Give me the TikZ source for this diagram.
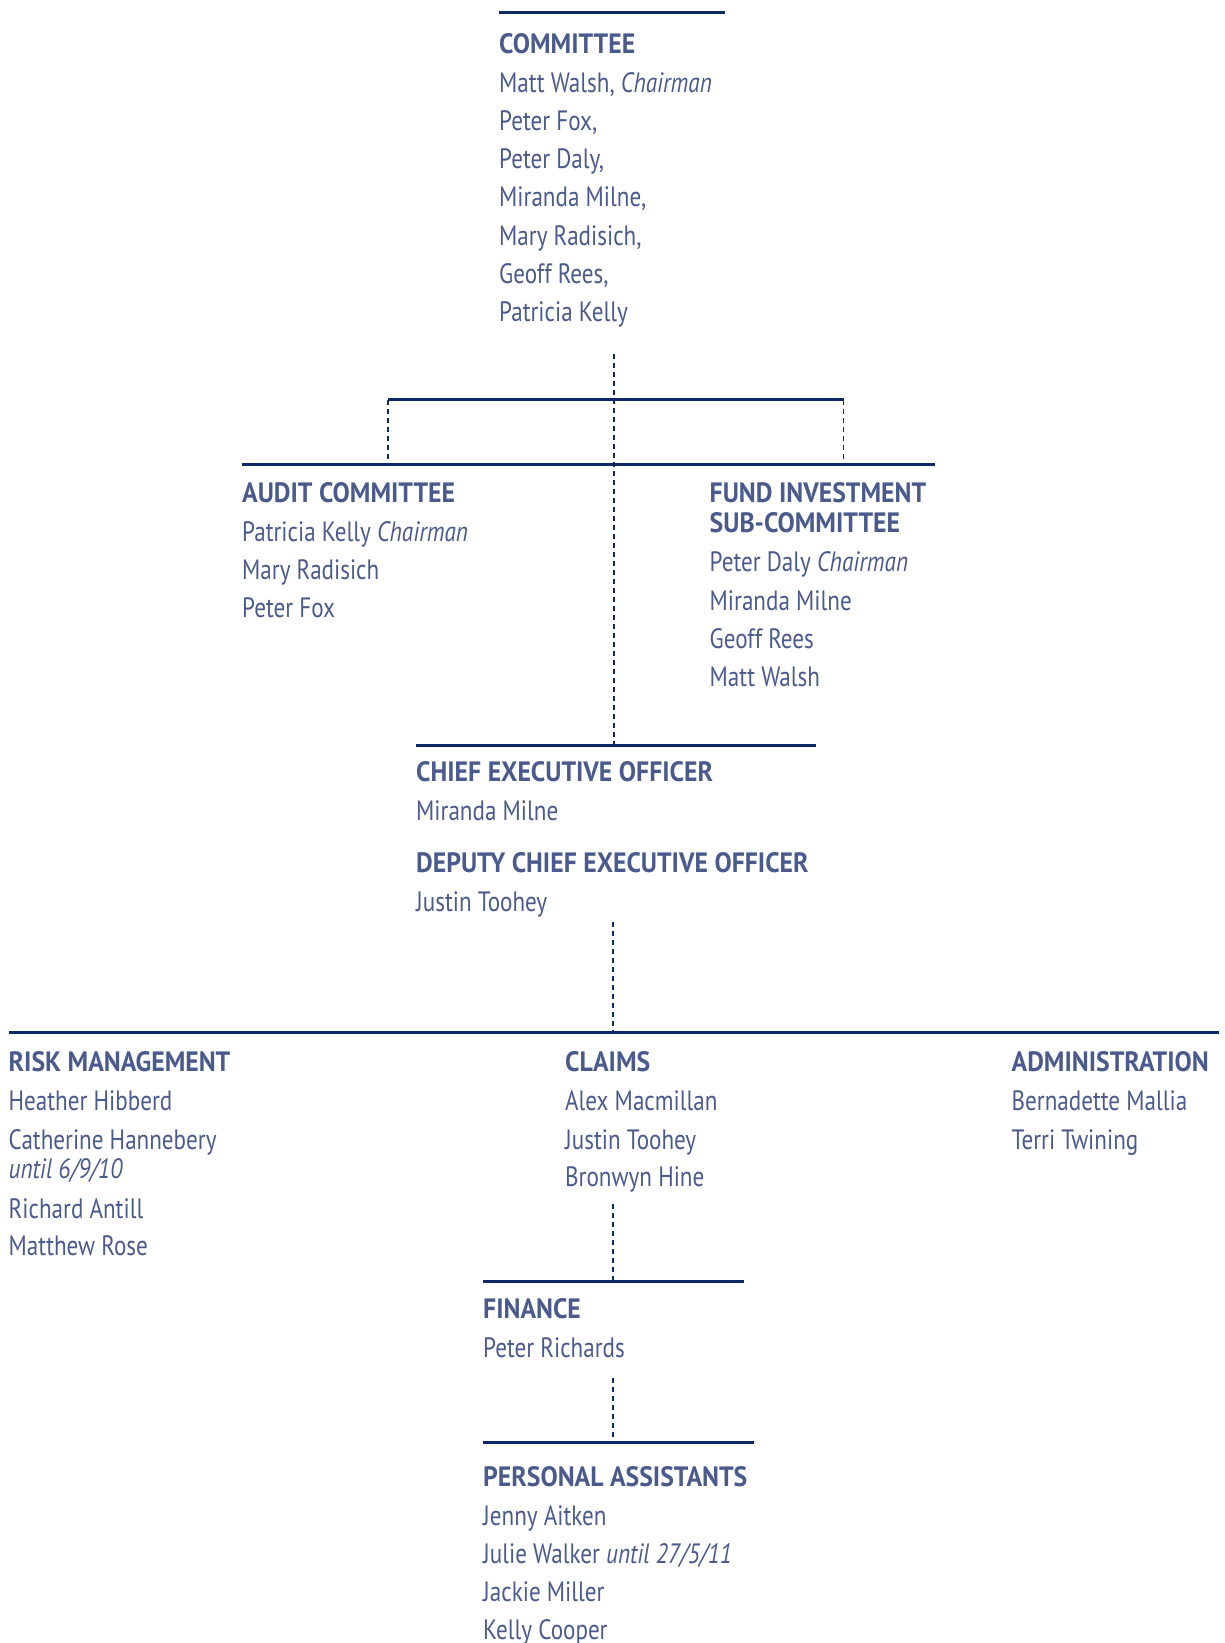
\documentclass[tikz,border=0pt]{standalone}
\usepackage{fontspec}
\setmainfont{PT Sans}[UprightFeatures={FakeStretch=0.825}, ItalicFeatures={FakeStretch=0.83}, BoldFeatures={FakeStretch=0.92}]
\definecolor{txtc}{HTML}{4A5A8C}
\definecolor{linec}{HTML}{0B2A63}
\newcommand{\fs}{\fontsize{28}{30}\selectfont}
\tikzset{
  txt/.style={anchor=base west, inner sep=0pt, text=txtc, font=\fs},
  head/.style={txt, font=\fs\bfseries},
  hline/.style={draw=linec, line width=3pt},
  dline/.style={draw=linec, line width=1.5pt, dash pattern=on 5pt off 4pt},
}
\begin{document}
\begin{tikzpicture}[x=1pt,y=-1pt]
\useasboundingbox (0,0) rectangle (1225,1643);
% ---------- COMMITTEE ----------
\coordinate (cL) at (499,12.6); \coordinate (cR) at (725,12.6);
\draw[hline] (cL) -- (cR);
\node[head] (com) at (499,54) {COMMITTEE};
\node[txt] (com1) at (499,92.2) {Matt Walsh, \textit{Chairman}};
\node[txt] (com2) at (499,130.4) {Peter Fox,};
\node[txt] (com3) at (499,168.6) {Peter Daly,};
\node[txt] (com4) at (499,206.8) {Miranda Milne,};
\node[txt] (com5) at (499,245) {Mary Radisich,};
\node[txt] (com6) at (499,283.2) {Geoff Rees,};
\node[txt] (com7) at (499,321.4) {Patricia Kelly};
% ---------- bracket ----------
\coordinate (ctop) at (614,354);
\coordinate (bL) at (388,399.5); \coordinate (bR) at (843.5,399.5);
\coordinate (lL) at (242,464.5); \coordinate (lR) at (935,464.5);
\coordinate (bLd) at (388,464.5); \coordinate (bRd) at (843.5,464.5);
\draw[hline] (bL) -- (bR);
\draw[hline] (lL) -- (lR);
\draw[dline] (bL) -- (bLd);
\draw[dline] (bR) -- (bRd);
% ---------- AUDIT ----------
\node[head] (aud) at (242,502.5) {AUDIT COMMITTEE};
\node[txt] (aud1) at (242,541) {Patricia Kelly \textit{Chairman}};
\node[txt] (aud2) at (242,579.2) {Mary Radisich};
\node[txt] (aud3) at (242,617.5) {Peter Fox};
% ---------- FUND ----------
\node[head] (fund) at (709.5,502.5) {FUND INVESTMENT};
\node[head] (fundb) at (709.5,532.9) {SUB-COMMITTEE};
\node[txt] (fund1) at (709.5,571.7) {Peter Daly \textit{Chairman}};
\node[txt] (fund2) at (709.5,610) {Miranda Milne};
\node[txt] (fund3) at (709.5,648.2) {Geoff Rees};
\node[txt] (fund4) at (709.5,686.4) {Matt Walsh};
% ---------- CEO ----------
\coordinate (ceoL) at (416,745.5); \coordinate (ceoR) at (815.5,745.5);
\coordinate (ceoC) at (614,745.5);
\draw[hline] (ceoL) -- (ceoR);
\draw[dline] (ctop) -- (ceoC);
\node[head] (ceo) at (416,781.3) {CHIEF EXECUTIVE OFFICER};
\node[txt] (ceo1) at (416,820) {Miranda Milne};
\node[head] (dep) at (416,872.4) {DEPUTY CHIEF EXECUTIVE OFFICER};
\node[txt] (dep1) at (416,911.2) {Justin Toohey};
% ---------- departments ----------
\coordinate (d1) at (613,922); \coordinate (d2) at (613,1032.5);
\coordinate (wL) at (8.5,1032.5); \coordinate (wR) at (1218.5,1032.5);
\draw[dline] (d1) -- (d2);
\draw[hline] (wL) -- (wR);
\node[head] (risk) at (8.5,1071.5) {RISK MANAGEMENT};
\node[txt] (risk1) at (8.5,1110.3) {Heather Hibberd};
\node[txt] (risk2) at (8.5,1149) {Catherine Hannebery};
\node[txt] (risk2b) at (8.5,1178.4) {\textit{until 6/9/10}};
\node[txt] (risk3) at (8.5,1218.2) {Richard Antill};
\node[txt] (risk4) at (8.5,1255.9) {Matthew Rose};
\node[head] (clm) at (565,1071.5) {CLAIMS};
\node[txt] (clm1) at (565,1110.3) {Alex Macmillan};
\node[txt] (clm2) at (565,1149) {Justin Toohey};
\node[txt] (clm3) at (565,1186.8) {Bronwyn Hine};
\node[head] (adm) at (1011.5,1071.5) {ADMINISTRATION};
\node[txt] (adm1) at (1011.5,1110.3) {Bernadette Mallia};
\node[txt] (adm2) at (1011.5,1149) {Terri Twining};
% ---------- FINANCE ----------
\coordinate (f1) at (613,1203.5); \coordinate (f2) at (613,1281.5);
\coordinate (fL) at (483,1281.5); \coordinate (fR) at (744,1281.5);
\draw[dline] (f1) -- (f2);
\draw[hline] (fL) -- (fR);
\node[head] (fin) at (483,1318.9) {FINANCE};
\node[txt] (fin1) at (483,1357.6) {Peter Richards};
% ---------- PA ----------
\coordinate (p1) at (613,1378); \coordinate (p2) at (613,1442);
\coordinate (pL) at (483,1442); \coordinate (pR) at (753.5,1442);
\draw[dline] (p1) -- (p2);
\draw[hline] (pL) -- (pR);
\node[head] (pa) at (483,1486.5) {PERSONAL ASSISTANTS};
\node[txt] (pa1) at (483,1525.3) {Jenny Aitken};
\node[txt] (pa2) at (483,1563) {Julie Walker \textit{until 27/5/11}};
\node[txt] (pa3) at (483,1601.7) {Jackie Miller};
\node[txt] (pa4) at (483,1639.5) {Kelly Cooper};
\end{tikzpicture}
\end{document}
